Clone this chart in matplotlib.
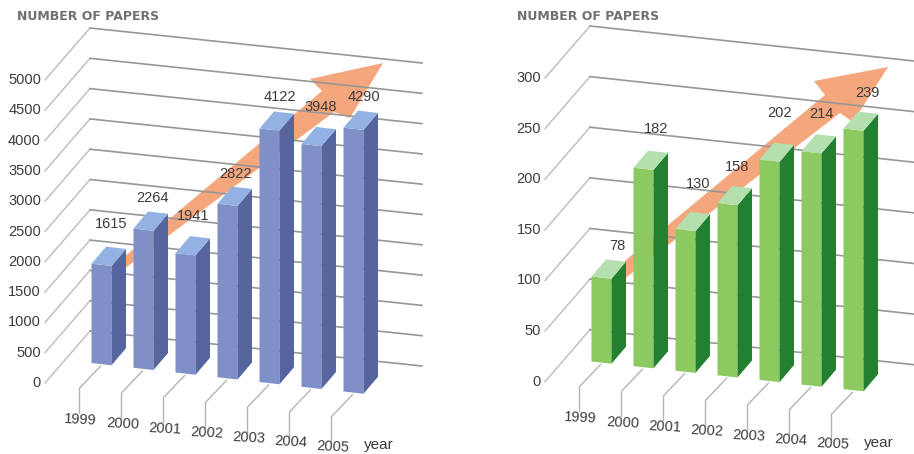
import matplotlib
matplotlib.use('Agg')
import matplotlib.pyplot as plt
from matplotlib.patches import Polygon
from matplotlib.transforms import Affine2D

YEARS = ['1999', '2000', '2001', '2002', '2003', '2004', '2005']

TICKS_LEFT = [0, 500, 1000, 1500, 2000, 2500, 3000, 3500, 4000, 4500, 5000]
PAPERS_LEFT = [1615, 2264, 1941, 2822, 4122, 3948, 4290]
LABEL_DX_LEFT = [20, 19, 18, 18, 20, 19, 20]
LABEL_DY_LEFT = [-40, -31, -37, -30, -31, -37, -31]

TICKS_RIGHT = [0, 50, 100, 150, 200, 250, 300]
PAPERS_RIGHT = [78, 182, 130, 158, 202, 214, 239]
LABEL_DX_RIGHT = [26, 23, 23, 20, 20, 20, 24]
LABEL_DY_RIGHT = [-30, -39, -45, -36, -47, -37, -36]

ARROW_LEFT = [(118, 262), (322, 91), (310, 79), (383, 63), (350, 118), (334, 112), (120, 272)]
ARROW_RIGHT = [(620, 265), (825, 95), (814, 81), (888, 67), (853, 122), (840, 113), (624, 279)]

BLUES = {'front': '#7f90c9', 'side': '#56659e', 'top': '#93b1e3'}
GREENS = {'front': '#8cc960', 'side': '#228030', 'top': '#b4e0b0'}
ORANGE = '#f4a67c'
GRID = '#979797'
GRID_LIGHT = '#bcbcbc'
TEXT = '#3c3c3c'
FONT = 'Liberation Sans'

BAR_W = 0.476
DEPTH = (14.5, -17)


def draw_wall(ax, ticks, x0, y0, y_top, right_x):
    # walls: short diagonal on the left then a long slightly falling back line
    px = (y0 - y_top) / ticks[-1]
    for t in ticks:
        y = y0 - t * px
        ax.plot([x0, x0 + 45], [y, y - 52], color=GRID_LIGHT, lw=1, zorder=1)
        ax.plot([x0 + 45, right_x], [y - 52, y - 52 + 35], color=GRID, lw=1.2, zorder=1)
        ax.text(x0 - 4, y, str(t), ha='right', va='center', fontsize=10.5,
                family=FONT, color=TEXT, zorder=6)


def draw_bars(ax, values, colors, x0, y0, step_y, scale, dx, dy):
    # (year index, value) to pixels, the bars run down the page to the right
    project = Affine2D.from_values(42, step_y, 0, -scale, x0, y0)
    for i, v in enumerate(values):
        z = 3 + i * 0.01
        front = [(i, 0), (i + BAR_W, 0), (i + BAR_W, v), (i, v)]
        ax.add_patch(Polygon(front, color=colors['front'], lw=0, transform=project + ax.transData, zorder=z))
        p = project.transform(front)
        d = DEPTH
        side = [p[1], p[1] + d, p[2] + d, p[2]]
        top = [p[3], p[2], p[2] + d, p[3] + d]
        ax.add_patch(Polygon(side, color=colors['side'], lw=0, zorder=z))
        ax.add_patch(Polygon(top, color=colors['top'], lw=0, zorder=z))
        ax.text(p[3][0] + dx[i], p[3][1] + dy[i], str(v), ha='center', va='center',
                fontsize=10.5, family=FONT, color=TEXT, zorder=6)

        # year tick below the bar
        cx, cy = project.transform((i + BAR_W / 2, 0))
        ax.plot([cx - 1, cx - 22, cx - 22], [cy + 2, cy + 24, cy + 49], color='#b4b4b4', lw=1, zorder=2)
        ax.text(cx - 21, cy + 55.5 - i * 0.25, YEARS[i], ha='center', va='center', fontsize=10.5,
                family=FONT, color=TEXT, rotation=-3, zorder=6)
    return project


def draw_panel(ax, x_off, ticks, values, colors, arrow, y0_wall, y_top, right_x, bar_y0, step_y, scale, dx, dy):
    ax.text(x_off + 17, 16.5, 'NUMBER OF PAPERS', ha='left', va='center', fontsize=9,
            family='DejaVu Sans', weight='bold', color='#707070')
    draw_wall(ax, ticks, x_off + 45, y0_wall, y_top, right_x)
    ax.add_patch(Polygon(arrow, color=ORANGE, lw=0, zorder=0.5))
    project = draw_bars(ax, values, colors, x_off + 91.5, bar_y0, step_y, scale, dx, dy)
    last_x, last_y = project.transform((len(values) - 1, 0))
    ax.text(last_x + 35.5, last_y + 54, 'year', ha='center', va='center', fontsize=11,
            family=FONT, color=TEXT, zorder=6)


fig = plt.figure(figsize=(9.14, 4.54), dpi=100)
ax = fig.add_axes([0, 0, 1, 1])
ax.set_xlim(0, 914)
ax.set_ylim(454, 0)
ax.axis('off')

draw_panel(ax, 0, TICKS_LEFT, PAPERS_LEFT, BLUES, ARROW_LEFT, 383, 80, 422, 363, 4.75, 0.0615,
           LABEL_DX_LEFT, LABEL_DY_LEFT)
draw_panel(ax, 500, TICKS_RIGHT, PAPERS_RIGHT, GREENS, ARROW_RIGHT, 381.7, 78, 914, 361.5, 4.6, 1.09,
           LABEL_DX_RIGHT, LABEL_DY_RIGHT)

fig.savefig('out.png', dpi=100)
